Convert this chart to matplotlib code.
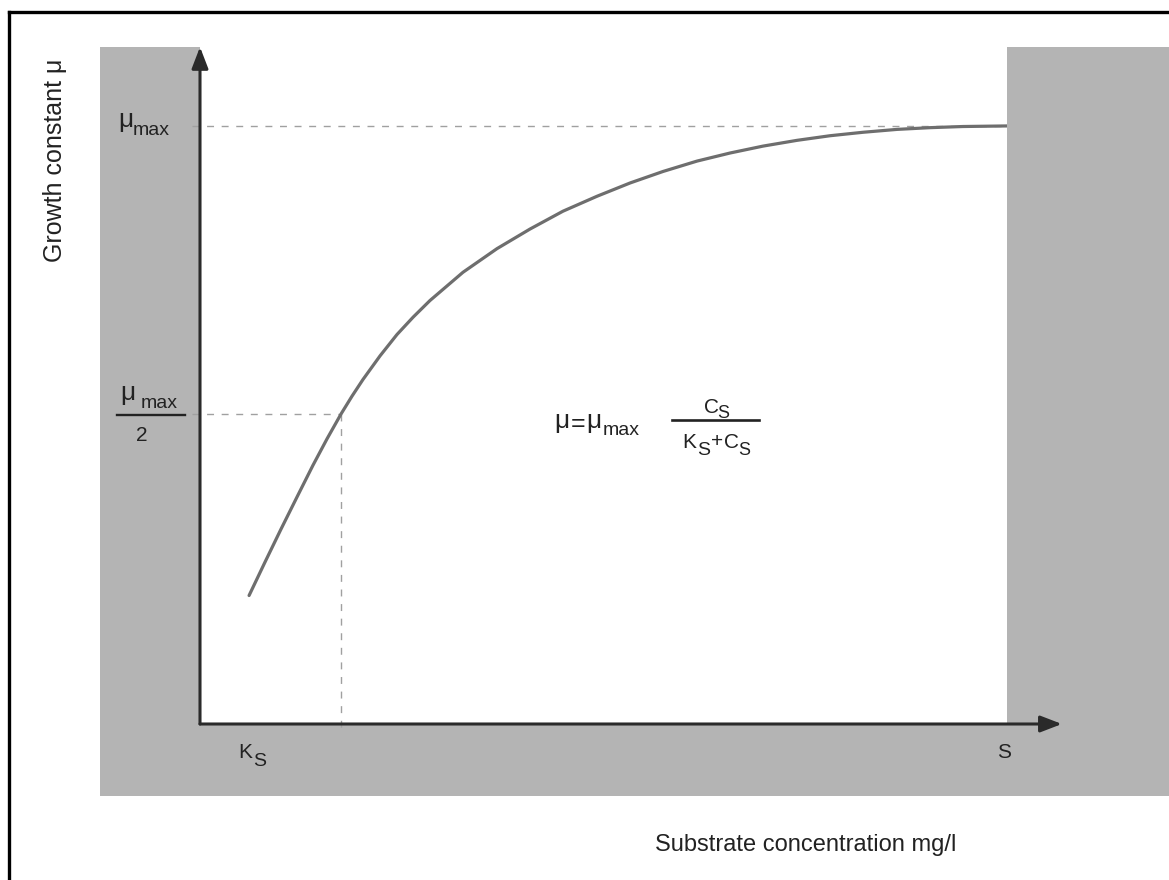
import matplotlib
matplotlib.use('Agg')
import matplotlib.pyplot as plt
from matplotlib.patches import Rectangle

plt.rcParams['font.family'] = ['Liberation Sans', 'DejaVu Sans']

# values (Ks = 1, mu_max = 1)
substrate = [0.348, 0.461, 0.574, 0.688, 0.801, 0.901, 1.000, 1.078, 1.156, 1.277,
             1.397, 1.511, 1.631, 1.865, 2.106, 2.340, 2.574, 2.816, 3.050, 3.284,
             3.525, 3.759, 3.993, 4.234, 4.468, 4.702, 4.943, 5.177, 5.411, 5.723]
growth = [0.185, 0.243, 0.300, 0.356, 0.411, 0.457, 0.500, 0.531, 0.560, 0.601,
          0.638, 0.668, 0.697, 0.746, 0.787, 0.821, 0.852, 0.878, 0.901, 0.921,
          0.939, 0.953, 0.965, 0.975, 0.983, 0.989, 0.994, 0.997, 0.999, 1.0]
mu_max = 1.0
k_s = 1.0

W, H = 1169, 880
fig = plt.figure(figsize=(W / 100, H / 100), dpi=100)

def fx(px):
    return px / W

def fy(py):
    return 1 - py / H

def txt(px, py, s, size, **kw):
    kw.setdefault('color', '#222222')
    kw.setdefault('va', 'baseline')
    kw.setdefault('ha', 'left')
    fig.text(fx(px), fy(py), s, fontsize=size, zorder=5, **kw)

def hline(x0, x1, py, lw=1.7):
    fig.add_artist(plt.Line2D([fx(x0), fx(x1)], [fy(py), fy(py)], color='#222222',
                              lw=lw, zorder=5))

# grey frame behind the plot area
fig.patches.append(Rectangle((fx(100), fy(796)), fx(1169) - fx(100), fy(47) - fy(796),
                             transform=fig.transFigure, facecolor='#b4b4b4',
                             edgecolor='none', zorder=0))
# outer border (left and top)
fig.add_artist(plt.Line2D([fx(9), fx(9)], [fy(12), 0], color='black', lw=2.4))
fig.add_artist(plt.Line2D([fx(9), 1], [fy(12), fy(12)], color='black', lw=2.4))

ax = fig.add_axes([fx(200), fy(724), fx(1007) - fx(200), fy(47) - fy(724)])
ax.set_zorder(2)
ax.set_facecolor('white')
ax.set_xlim(0, 5.723)
ax.set_ylim(-0.038, 1.137)
for s in ax.spines.values():
    s.set_visible(False)
ax.set_xticks([])
ax.set_yticks([])

dash = (0, (5, 5.5))
ax.plot([-0.06, substrate[-1]], [mu_max, mu_max], color='#a0a0a0', lw=1, ls=dash, clip_on=False)
ax.plot([-0.06, k_s], [mu_max / 2, mu_max / 2], color='#a0a0a0', lw=1, ls=dash, clip_on=False)
ax.plot([k_s, k_s], [mu_max / 2, -0.045], color='#a0a0a0', lw=1, ls=dash, clip_on=False)

ax.plot(substrate, growth, color='#6e6e6e', lw=2.3, solid_capstyle='round',
        solid_joinstyle='round', zorder=3)

# axes with arrows
arrow = dict(arrowstyle='-|>,head_length=13,head_width=5', color='#2a2a2a', lw=2.2,
             shrinkA=0, shrinkB=0, mutation_scale=1)
ax.annotate('', xy=(0, 1.0), xytext=(0, 0), xycoords='axes fraction', arrowprops=arrow,
            annotation_clip=False)
ax.annotate('', xy=(1.068, 0), xytext=(0, 0), xycoords='axes fraction', arrowprops=arrow,
            annotation_clip=False)

# y tick labels
txt(126, 127, 'μ', 19, ha='center')
txt(133, 135, 'max', 14)
txt(128, 400, 'μ', 19, ha='center')
txt(141, 408, 'max', 14)
hline(117, 185, 415)
txt(142, 441, '2', 15, ha='center')

# x tick labels
txt(238, 758, 'K', 15)
txt(253, 766, 'S', 14)
txt(1004, 758, 'S', 15, ha='center')

# formula
txt(562, 428, 'μ', 19, ha='center')
txt(578, 431, '=', 18, ha='center')
txt(594, 428, 'μ', 19, ha='center')
txt(603, 435, 'max', 14)
hline(672, 759, 420, lw=1.9)
txt(704, 413, 'C', 15)
txt(717, 418, 'S', 13)
txt(682, 448, 'K', 15)
txt(697, 455, 'S', 14)
txt(711, 447, '+', 15)
txt(724, 448, 'C', 15)
txt(738, 455, 'S', 13)

# axis titles
txt(55, 160, 'Growth constant μ', 18, rotation=90, ha='center', va='center')
txt(655, 851, 'Substrate concentration mg/l', 17)

fig.savefig('out.png', dpi=100)
